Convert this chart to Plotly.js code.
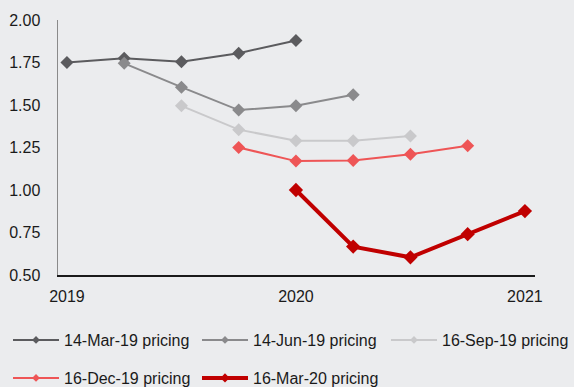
<!DOCTYPE html>
<html>
<head>
<meta charset="utf-8">
<script src="https://cdn.plot.ly/plotly-3.0.1.min.js"></script>
<style>html,body{margin:0;padding:0;background:#ebecee;}#chart{width:574px;height:387px;}</style>
</head>
<body>
<div id="chart"></div>
<script>
// Quarter positions (decimal years) and yield values
const xMar19 = [2019.0, 2019.25, 2019.5, 2019.75, 2020.0];
const yMar19 = [1.75, 1.775, 1.755, 1.805, 1.88];
const xJun19 = [2019.25, 2019.5, 2019.75, 2020.0, 2020.25];
const yJun19 = [1.745, 1.605, 1.47, 1.495, 1.56];
const xSep19 = [2019.5, 2019.75, 2020.0, 2020.25, 2020.5];
const ySep19 = [1.495, 1.355, 1.29, 1.29, 1.318];
const xDec19 = [2019.75, 2020.0, 2020.25, 2020.5, 2020.75];
const yDec19 = [1.25, 1.17, 1.173, 1.21, 1.26];
const xMar20 = [2020.0, 2020.25, 2020.5, 2020.75, 2021.0];
const yMar20 = [1.0, 0.667, 0.604, 0.74, 0.876];
const names = ['14-Mar-19 pricing', '14-Jun-19 pricing', '16-Sep-19 pricing', '16-Dec-19 pricing', '16-Mar-20 pricing'];
const xTicks = [2019, 2020, 2021];
const xTickText = ['2019', '2020', '2021'];
const yTicks = [0.5, 0.75, 1.0, 1.25, 1.5, 1.75, 2.0];

const colors = ['#5b5b5e', '#8a8a8c', '#c9c9cb', '#ee5556', '#c00000'];
const widths = [2, 2, 2, 2, 4];
const msizes = [10, 10, 10, 10, 11];
const xs = [xMar19, xJun19, xSep19, xDec19, xMar20];
const ys = [yMar19, yJun19, ySep19, yDec19, yMar20];
const legendIds = ['legend', 'legend2', 'legend3', 'legend4', 'legend5'];

const traces = xs.map((x, i) => ({
  type: 'scatter', mode: 'lines+markers', x: x, y: ys[i], name: names[i],
  line: {color: colors[i], width: widths[i]},
  marker: {symbol: 'diamond', size: msizes[i], color: colors[i]},
  showlegend: false
}));
// legend-only entries (no data) with the small key markers
names.forEach((n, i) => traces.push({
  type: 'scatter', mode: 'lines+markers', x: [null], y: [null], name: n,
  line: {color: colors[i], width: widths[i]},
  marker: {symbol: 'diamond', size: i === 4 ? 7 : 6, color: colors[i]},
  legend: legendIds[i], showlegend: true, hoverinfo: 'skip'
}));

const legendCommon = {
  orientation: 'h', xanchor: 'left', yanchor: 'middle',
  font: {family: 'Liberation Sans, Arial, sans-serif', size: 16, color: '#1a1a1a'},
  bgcolor: 'rgba(0,0,0,0)', itemwidth: 46, itemclick: false, itemdoubleclick: false
};
const legX = [-0.1048, 0.2914, 0.6876, -0.1048, 0.2914];
const legY = [-0.255, -0.255, -0.255, -0.404, -0.404];

const layout = {
  width: 574, height: 387,
  paper_bgcolor: '#ebecee', plot_bgcolor: '#ebecee',
  margin: {l: 58, r: 39, t: 20, b: 112, autoexpand: false},
  font: {family: 'Liberation Sans, Arial, sans-serif', size: 16, color: '#1a1a1a'},
  xaxis: {
    range: [2018.961, 2021.044], tickvals: xTicks, ticktext: xTickText,
    showgrid: false, zeroline: false, showline: true, linecolor: '#1a1a1a', linewidth: 1.5,
    ticks: '', ticklabelstandoff: 6, automargin: false
  },
  yaxis: {
    range: [0.5, 2.0], tickvals: yTicks, tickformat: '.2f',
    showgrid: false, zeroline: false, showline: true, linecolor: '#8a8a8a', linewidth: 1.5,
    ticks: '', ticklabelstandoff: 13, automargin: false
  },
  showlegend: true
};
legendIds.forEach((id, i) => {
  layout[id] = Object.assign({}, legendCommon, {x: legX[i], y: legY[i]});
});

Plotly.newPlot('chart', traces, layout, {displayModeBar: false, staticPlot: true});
</script>
</body>
</html>
